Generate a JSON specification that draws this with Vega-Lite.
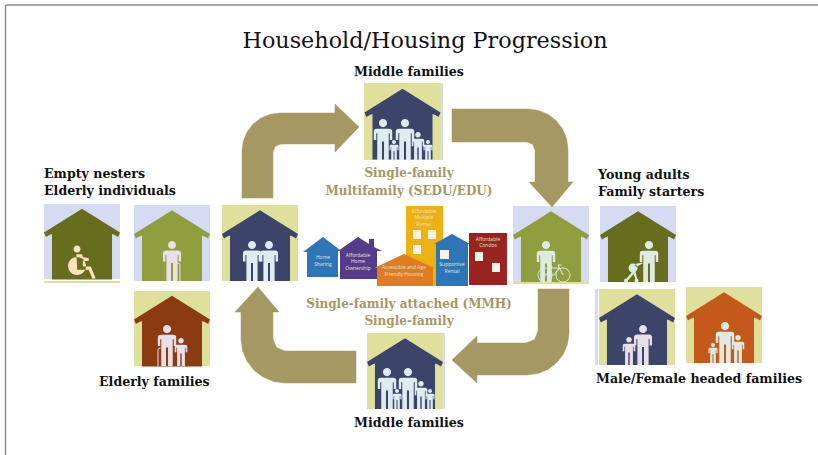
{
"$schema":"https://vega.github.io/schema/vega-lite/v6.json",
"width":818,"height":455,"padding":0,
"autosize":{"type":"fit","contains":"padding"},
"background":"white",
"config":{"view":{"stroke":null},"legend":{"disable":true},"axis":{"domain":false,"grid":false,"ticks":false,"labels":false,"title":null}},
"datasets":{
"frame":[{"x":5.5,"y":5,"x2":5.5,"y2":455},{"x":5.5,"y":5,"x2":818,"y2":5}],
"tiles":[
{"x":44,"x2":120,"y":281,"y2":283,"paint":"straw"},
{"x":441,"x2":443,"y":83,"y2":160,"paint":"lavender"},
{"x":443,"x2":445,"y":333,"y2":409,"paint":"lavender"},
{"x":595,"x2":598,"y":289,"y2":365,"paint":"lavender"},
{"x":513,"x2":589,"y":282,"y2":284,"paint":"straw"},
{"x":44,"x2":120,"y":204,"y2":279,"paint":"lavender"},
{"x":134,"x2":210,"y":205,"y2":281,"paint":"lavender"},
{"x":222,"x2":298,"y":205,"y2":281,"paint":"straw"},
{"x":134,"x2":210,"y":291,"y2":366,"paint":"straw"},
{"x":364,"x2":441,"y":83,"y2":160,"paint":"straw"},
{"x":367,"x2":443,"y":333,"y2":409,"paint":"straw"},
{"x":513,"x2":589,"y":206,"y2":282,"paint":"lavender"},
{"x":600,"x2":676,"y":206,"y2":282,"paint":"lavender"},
{"x":599,"x2":675,"y":289,"y2":365,"paint":"straw"},
{"x":686,"x2":762,"y":287,"y2":363,"paint":"straw"}
],
"houses":[
{"x":82,"y":241.5,"paint":"olive"},
{"x":172,"y":243,"paint":"moss"},
{"x":260,"y":243,"paint":"navy"},
{"x":172,"y":328.5,"paint":"brown"},
{"x":402.5,"y":121.5,"paint":"navy"},
{"x":405,"y":371,"paint":"navy"},
{"x":551,"y":244,"paint":"moss"},
{"x":638,"y":244,"paint":"olive"},
{"x":637,"y":327,"paint":"navy"},
{"x":724,"y":325,"paint":"rust"}
],
"figures":[
{"x":82,"y":263,"stature":32,"figure":"wheelchair","paint":"cream"},
{"x":172,"y":261,"stature":40,"figure":"person","paint":"pink"},
{"x":252,"y":261,"stature":40,"figure":"person","paint":"ice"},
{"x":269,"y":261,"stature":40,"figure":"person","paint":"ice"},
{"x":167,"y":345.5,"stature":41,"figure":"person","paint":"pink"},
{"x":181,"y":352,"stature":28,"figure":"person","paint":"pink"},
{"x":383,"y":139.5,"stature":41,"figure":"person","paint":"ice"},
{"x":405,"y":139.5,"stature":41,"figure":"person","paint":"ice"},
{"x":394,"y":150,"stature":20,"figure":"person","paint":"ice"},
{"x":418,"y":146,"stature":28,"figure":"person","paint":"ice"},
{"x":428,"y":150,"stature":20,"figure":"person","paint":"ice"},
{"x":387,"y":388.5,"stature":41,"figure":"person","paint":"ice"},
{"x":408,"y":388.5,"stature":41,"figure":"person","paint":"ice"},
{"x":397,"y":399,"stature":20,"figure":"person","paint":"ice"},
{"x":421,"y":395,"stature":28,"figure":"person","paint":"ice"},
{"x":430,"y":399,"stature":20,"figure":"person","paint":"ice"},
{"x":546,"y":261.5,"stature":41,"figure":"person","paint":"mint"},
{"x":649,"y":261.5,"stature":41,"figure":"person","paint":"mint"},
{"x":633,"y":272,"stature":20,"figure":"stroller","paint":"mint"},
{"x":643,"y":345,"stature":40,"figure":"person","paint":"pink"},
{"x":629,"y":351,"stature":28,"figure":"person","paint":"pink"},
{"x":725,"y":342.5,"stature":41,"figure":"person","paint":"mint"},
{"x":713,"y":353,"stature":20,"figure":"person","paint":"mint"},
{"x":738,"y":349,"stature":28,"figure":"person","paint":"mint"}
],
"props":[
{"x":180,"y":272,"stature":18,"figure":"caneL","paint":"pink"},
{"x":158,"y":357,"stature":18,"figure":"caneR","paint":"pink"},
{"x":554,"y":271,"stature":10,"figure":"bike","paint":"mint"}
],
"arrows":[
{"id":"a1","n":0,"x":242,"y":198},{"id":"a1","n":1,"x":242,"y":151},{"id":"a1","n":2,"x":243.3,"y":141.2},{"id":"a1","n":3,"x":247.1,"y":132},{"id":"a1","n":4,"x":253.1,"y":124.1},{"id":"a1","n":5,"x":261,"y":118.1},{"id":"a1","n":6,"x":270.2,"y":114.3},{"id":"a1","n":7,"x":280,"y":113},{"id":"a1","n":8,"x":335,"y":113},{"id":"a1","n":9,"x":335,"y":104},{"id":"a1","n":10,"x":359,"y":127},{"id":"a1","n":11,"x":335,"y":152},{"id":"a1","n":12,"x":335,"y":144},{"id":"a1","n":13,"x":281,"y":144},{"id":"a1","n":14,"x":275.3,"y":146.3},{"id":"a1","n":15,"x":273,"y":152},{"id":"a1","n":16,"x":273,"y":198},{"id":"a1","n":17,"x":242,"y":198},
{"id":"a2","n":0,"x":452,"y":109},{"id":"a2","n":1,"x":528,"y":109},{"id":"a2","n":2,"x":538.4,"y":110.4},{"id":"a2","n":3,"x":548,"y":114.4},{"id":"a2","n":4,"x":556.3,"y":120.7},{"id":"a2","n":5,"x":562.6,"y":129},{"id":"a2","n":6,"x":566.6,"y":138.6},{"id":"a2","n":7,"x":568,"y":149},{"id":"a2","n":8,"x":568,"y":182},{"id":"a2","n":9,"x":573,"y":182},{"id":"a2","n":10,"x":552,"y":207},{"id":"a2","n":11,"x":529,"y":182},{"id":"a2","n":12,"x":535,"y":182},{"id":"a2","n":13,"x":535,"y":150},{"id":"a2","n":14,"x":532.7,"y":144.3},{"id":"a2","n":15,"x":527,"y":142},{"id":"a2","n":16,"x":452,"y":142},{"id":"a2","n":17,"x":452,"y":109},
{"id":"a3","n":0,"x":569,"y":289},{"id":"a3","n":1,"x":569,"y":333},{"id":"a3","n":2,"x":567.6,"y":343.9},{"id":"a3","n":3,"x":563.4,"y":354},{"id":"a3","n":4,"x":556.7,"y":362.7},{"id":"a3","n":5,"x":548,"y":369.4},{"id":"a3","n":6,"x":537.9,"y":373.6},{"id":"a3","n":7,"x":527,"y":375},{"id":"a3","n":8,"x":477,"y":375},{"id":"a3","n":9,"x":477,"y":383},{"id":"a3","n":10,"x":452,"y":360},{"id":"a3","n":11,"x":477,"y":336},{"id":"a3","n":12,"x":477,"y":343},{"id":"a3","n":13,"x":526,"y":343},{"id":"a3","n":14,"x":534.5,"y":339.5},{"id":"a3","n":15,"x":538,"y":331},{"id":"a3","n":16,"x":538,"y":289},{"id":"a3","n":17,"x":569,"y":289},
{"id":"a4","n":0,"x":356,"y":383},{"id":"a4","n":1,"x":285,"y":383},{"id":"a4","n":2,"x":273.6,"y":381.5},{"id":"a4","n":3,"x":263,"y":377.1},{"id":"a4","n":4,"x":253.9,"y":370.1},{"id":"a4","n":5,"x":246.9,"y":361},{"id":"a4","n":6,"x":242.5,"y":350.4},{"id":"a4","n":7,"x":241,"y":339},{"id":"a4","n":8,"x":241,"y":312},{"id":"a4","n":9,"x":235,"y":312},{"id":"a4","n":10,"x":258,"y":287},{"id":"a4","n":11,"x":279,"y":312},{"id":"a4","n":12,"x":273,"y":312},{"id":"a4","n":13,"x":273,"y":339},{"id":"a4","n":14,"x":276.5,"y":347.5},{"id":"a4","n":15,"x":285,"y":351},{"id":"a4","n":16,"x":356,"y":351},{"id":"a4","n":17,"x":356,"y":383}
],
"city":[
{"id":"tower","paint":"amber","n":0,"x":406,"y":206},{"id":"tower","paint":"amber","n":1,"x":443,"y":206},{"id":"tower","paint":"amber","n":2,"x":443,"y":286},{"id":"tower","paint":"amber","n":3,"x":406,"y":286},{"id":"tower","paint":"amber","n":4,"x":406,"y":206},
{"id":"sharing","paint":"blue","n":0,"x":323,"y":237},{"id":"sharing","paint":"blue","n":1,"x":340,"y":250},{"id":"sharing","paint":"blue","n":2,"x":338,"y":251},{"id":"sharing","paint":"blue","n":3,"x":338,"y":277},{"id":"sharing","paint":"blue","n":4,"x":307,"y":277},{"id":"sharing","paint":"blue","n":5,"x":307,"y":252},{"id":"sharing","paint":"blue","n":6,"x":303,"y":252},{"id":"sharing","paint":"blue","n":7,"x":323,"y":237},
{"id":"owner","paint":"purple","n":0,"x":358,"y":237},{"id":"owner","paint":"purple","n":1,"x":369,"y":244},{"id":"owner","paint":"purple","n":2,"x":369,"y":239},{"id":"owner","paint":"purple","n":3,"x":374,"y":239},{"id":"owner","paint":"purple","n":4,"x":374,"y":247},{"id":"owner","paint":"purple","n":5,"x":382,"y":251},{"id":"owner","paint":"purple","n":6,"x":377,"y":251},{"id":"owner","paint":"purple","n":7,"x":377,"y":279},{"id":"owner","paint":"purple","n":8,"x":340,"y":279},{"id":"owner","paint":"purple","n":9,"x":340,"y":251},{"id":"owner","paint":"purple","n":10,"x":338,"y":251},{"id":"owner","paint":"purple","n":11,"x":358,"y":237},
{"id":"access","paint":"orange","n":0,"x":404,"y":254},{"id":"access","paint":"orange","n":1,"x":434,"y":268},{"id":"access","paint":"orange","n":2,"x":433,"y":268},{"id":"access","paint":"orange","n":3,"x":433,"y":286},{"id":"access","paint":"orange","n":4,"x":377,"y":286},{"id":"access","paint":"orange","n":5,"x":377,"y":268},{"id":"access","paint":"orange","n":6,"x":374,"y":268},{"id":"access","paint":"orange","n":7,"x":404,"y":254},
{"id":"support","paint":"blue","n":0,"x":452,"y":234},{"id":"support","paint":"blue","n":1,"x":470,"y":244},{"id":"support","paint":"blue","n":2,"x":468,"y":244},{"id":"support","paint":"blue","n":3,"x":468,"y":286},{"id":"support","paint":"blue","n":4,"x":436,"y":286},{"id":"support","paint":"blue","n":5,"x":436,"y":244},{"id":"support","paint":"blue","n":6,"x":434,"y":244},{"id":"support","paint":"blue","n":7,"x":452,"y":234},
{"id":"condo","paint":"red","n":0,"x":469,"y":233},{"id":"condo","paint":"red","n":1,"x":507,"y":233},{"id":"condo","paint":"red","n":2,"x":507,"y":285},{"id":"condo","paint":"red","n":3,"x":469,"y":285},{"id":"condo","paint":"red","n":4,"x":469,"y":233}
],
"windows":[
{"x":413,"x2":421,"y":230,"y2":239},{"x":428,"x2":436,"y":230,"y2":239},{"x":413,"x2":421,"y":245,"y2":254},
{"x":440,"x2":449,"y":250,"y2":259},{"x":475,"x2":483,"y":252,"y2":261},{"x":492,"x2":500,"y":263,"y2":272}
],
"tiny":[
{"x":323,"y":259,"t":"Home"},{"x":323,"y":266,"t":"Sharing"},
{"x":358,"y":257,"t":"Affordable"},{"x":358,"y":263,"t":"Home"},{"x":358,"y":270,"t":"Ownership"},
{"x":404,"y":269,"t":"Accessible and Age"},{"x":404,"y":276,"t":"Friendly Housing"},
{"x":424,"y":213,"t":"Affordable"},{"x":424,"y":219,"t":"Multiple"},{"x":424,"y":226,"t":"Rental"},
{"x":452,"y":266,"t":"Supportive"},{"x":452,"y":273,"t":"Rental"},
{"x":488,"y":241,"t":"Affordable"},{"x":488,"y":247,"t":"Condos"}
],
"blackCenter":[
{"x":409,"y":76,"t":"Middle families"},
{"x":409,"y":427,"t":"Middle families"}
],
"blackLeft":[
{"x":44,"y":178,"t":"Empty nesters"},
{"x":44,"y":195,"t":"Elderly individuals"},
{"x":99,"y":386,"t":"Elderly families"},
{"x":598,"y":179,"t":"Young adults"},
{"x":598,"y":196,"t":"Family starters"},
{"x":596,"y":383,"t":"Male/Female headed families"}
],
"tanCenter":[
{"x":409,"y":177,"t":"Single-family"},
{"x":409,"y":195,"t":"Multifamily (SEDU/EDU)"},
{"x":409,"y":308,"t":"Single-family attached (MMH)"},
{"x":409,"y":325,"t":"Single-family"}
],
"heading":[{"x":425,"y":48,"t":"Household/Housing Progression"}]
},
"layer":[
{"data":{"name":"frame"},"mark":{"type":"rule","color":"#8c8c8c","strokeWidth":1.5},
 "encoding":{"x":{"field":"x","type":"quantitative","scale":{"domain":[0,818],"range":[0,818],"nice":false,"zero":false},"axis":null},
 "y":{"field":"y","type":"quantitative","scale":{"domain":[0,455],"range":[0,455],"nice":false,"zero":false},"axis":null},
 "x2":{"field":"x2"},"y2":{"field":"y2"}}},
{"data":{"name":"tiles"},"mark":{"type":"rect"},
 "encoding":{"x":{"field":"x","type":"quantitative"},"x2":{"field":"x2"},"y":{"field":"y","type":"quantitative"},"y2":{"field":"y2"},
 "fill":{"field":"paint","type":"nominal","scale":{"domain":["lavender","straw","olive","moss","navy","brown","rust","cream","pink","ice","mint","blue","purple","orange","amber","red"],"range":["#d5dbf3","#dfe09b","#666e1e","#919e3f","#3c4469","#8b3b0f","#c4591c","#fde3bd","#e9dfe9","#dfeaf1","#dfeae0","#2e75b6","#553c8b","#e07b20","#edb111","#99231f"]}}}},
{"data":{"name":"houses"},"mark":{"type":"point","filled":true,"opacity":1,"size":5776,"strokeWidth":0,
 "shape":"M0,-0.86 L1,-0.24 L0.95,-0.12 L0.86,-0.17 L0.79,-0.2 L0.79,1 L-0.79,1 L-0.79,-0.2 L-0.86,-0.17 L-0.95,-0.12 L-1,-0.24 Z"},
 "encoding":{"x":{"field":"x","type":"quantitative"},"y":{"field":"y","type":"quantitative"},"fill":{"field":"paint","type":"nominal"}}},
{"data":{"name":"figures"},"mark":{"type":"point","filled":true,"opacity":1,"strokeWidth":0},
 "encoding":{"x":{"field":"x","type":"quantitative"},"y":{"field":"y","type":"quantitative"},"fill":{"field":"paint","type":"nominal"},
 "size":{"field":"stature","type":"quantitative","scale":{"type":"pow","exponent":2,"domain":[0,100],"range":[0,10000],"zero":false}},
 "shape":{"field":"figure","type":"nominal","scale":{"domain":["person","wheelchair","stroller","caneL","caneR","bike"],"range":[
 "M-0.2,-0.8a0.2,0.2 0 1,0 0.4,0a0.2,0.2 0 1,0 -0.4,0Z M-0.3,-0.52 L0.3,-0.52 Q0.45,-0.52 0.45,-0.38 L0.45,0.02 L0.33,0.02 L0.33,-0.3 L0.28,-0.3 L0.28,1 L0.05,1 L0.05,0.1 L-0.05,0.1 L-0.05,1 L-0.28,1 L-0.28,-0.3 L-0.33,-0.3 L-0.33,0.02 L-0.45,0.02 L-0.45,-0.38 Q-0.45,-0.52 -0.3,-0.52 Z",
 "M-0.53,-0.875a0.22,0.22 0 1,0 0.44,0a0.22,0.22 0 1,0 -0.44,0Z M-0.87,0.19a0.56,0.56 0 1,0 1.12,0a0.56,0.56 0 1,0 -1.12,0Z M-0.35,-0.55 L0,-0.55 L0.05,-0.38 L0.42,-0.3 L0.42,-0.12 L0.05,-0.14 L0.05,0.22 L0.55,0.22 L0.85,0.95 L0.66,1 L0.42,0.42 L-0.3,0.42 Z",
 "M-0.45,-0.4a0.45,0.45 0 1,0 0.9,0a0.45,0.45 0 1,0 -0.9,0Z M0.2,-0.8 L0.9,-0.95 L0.95,-0.85 L0.3,-0.5 Z M-0.1,0 L-0.75,0.8 L-0.55,0.9 L0.05,0.2 L0.28,0.8 L0.45,0.8 L0.25,0 Z M-0.9,0.85a0.2,0.2 0 1,0 0.4,0a0.2,0.2 0 1,0 -0.4,0Z M0.15,0.85a0.2,0.2 0 1,0 0.4,0a0.2,0.2 0 1,0 -0.4,0Z",
 "M0,1 L0,-0.8 Q0,-1 -0.3,-1",
 "M0,1 L0,-0.8 Q0,-1 0.3,-1",
 "M-3.2,0.8a1.4,1.4 0 1,0 2.8,0a1.4,1.4 0 1,0 -2.8,0Z M0.4,0.8a1.4,1.4 0 1,0 2.8,0a1.4,1.4 0 1,0 -2.8,0Z M-1.8,0.8 L-0.4,-0.6 L1,-0.6 L0,0.8 L-1.8,0.8 M1.8,0.8 L0.8,-1.2 L1.5,-1.2 M-0.4,-0.6 L-0.6,-1.1"
 ]}}}},
{"data":{"name":"props"},"mark":{"type":"point","filled":false,"opacity":1,"strokeWidth":1},
 "encoding":{"x":{"field":"x","type":"quantitative"},"y":{"field":"y","type":"quantitative"},"stroke":{"field":"paint","type":"nominal","scale":{"domain":["pink","mint"],"range":["#e9dfe9","#dfeae0"]}},
 "size":{"field":"stature","type":"quantitative","scale":{"type":"pow","exponent":2,"domain":[0,100],"range":[0,10000],"zero":false}},
 "shape":{"field":"figure","type":"nominal"}}},
{"data":{"name":"arrows"},"mark":{"type":"line","fill":"#a59863","stroke":"#a59863","strokeWidth":0.5,"interpolate":"linear"},
 "encoding":{"x":{"field":"x","type":"quantitative"},"y":{"field":"y","type":"quantitative"},"detail":{"field":"id"},"order":{"field":"n","type":"quantitative"}}},
{"data":{"name":"city"},"mark":{"type":"line","strokeWidth":0,"interpolate":"linear"},
 "encoding":{"x":{"field":"x","type":"quantitative"},"y":{"field":"y","type":"quantitative"},"detail":{"field":"id"},"order":{"field":"n","type":"quantitative"},"fill":{"field":"paint","type":"nominal"}}},
{"data":{"name":"windows"},"mark":{"type":"rect","color":"#f7f3e8"},
 "encoding":{"x":{"field":"x","type":"quantitative"},"x2":{"field":"x2"},"y":{"field":"y","type":"quantitative"},"y2":{"field":"y2"}}},
{"data":{"name":"tiny"},"mark":{"type":"text","font":"Open Sans","fontSize":5,"color":"#e6e2d8","align":"center","baseline":"alphabetic"},
 "encoding":{"x":{"field":"x","type":"quantitative"},"y":{"field":"y","type":"quantitative"},"text":{"field":"t"}}},
{"data":{"name":"blackCenter"},"mark":{"type":"text","font":"DejaVu Serif","fontSize":12.6,"fontWeight":"bold","color":"#111111","align":"center","baseline":"alphabetic"},
 "encoding":{"x":{"field":"x","type":"quantitative"},"y":{"field":"y","type":"quantitative"},"text":{"field":"t"}}},
{"data":{"name":"blackLeft"},"mark":{"type":"text","font":"DejaVu Serif","fontSize":12.6,"fontWeight":"bold","color":"#111111","align":"left","baseline":"alphabetic"},
 "encoding":{"x":{"field":"x","type":"quantitative"},"y":{"field":"y","type":"quantitative"},"text":{"field":"t"}}},
{"data":{"name":"tanCenter"},"mark":{"type":"text","font":"DejaVu Serif","fontSize":12,"fontWeight":"bold","color":"#a59863","align":"center","baseline":"alphabetic"},
 "encoding":{"x":{"field":"x","type":"quantitative"},"y":{"field":"y","type":"quantitative"},"text":{"field":"t"}}},
{"data":{"name":"heading"},"mark":{"type":"text","font":"DejaVu Serif","fontSize":22.3,"color":"#111111","align":"center","baseline":"alphabetic"},
 "encoding":{"x":{"field":"x","type":"quantitative"},"y":{"field":"y","type":"quantitative"},"text":{"field":"t"}}}
]
}
